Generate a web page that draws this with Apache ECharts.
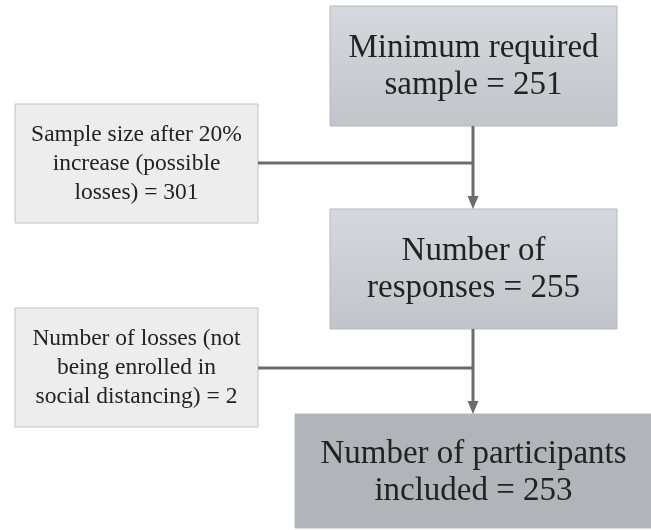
<!DOCTYPE html>
<html><head><meta charset="utf-8">
<script src="https://cdn.jsdelivr.net/npm/echarts@6/dist/echarts.min.js"></script>
<style>html,body{margin:0;padding:0;background:#fff}#c{width:651px;height:530px}</style>
</head><body><div id="c"></div>
<script>
// Flowchart content
const mainLabels = ['Minimum required\nsample = 251', 'Number of\nresponses = 255', 'Number of participants\nincluded = 253'];
const sideLabels = ['Sample size after 20%\nincrease (possible\nlosses) = 301', 'Number of losses (not\nbeing enrolled in\nsocial distancing) = 2'];

// Layout (pixels)
const mainBoxes = [
  {x: 330, y: 6, w: 287, h: 120, top: '#d5d8dc', bottom: '#c1c4c9', dy: 1},
  {x: 330, y: 209, w: 287, h: 120, top: '#d5d8dc', bottom: '#c1c4c9', dy: 1},
  {x: 295, y: 414, w: 357, h: 114, top: '#b1b4b9', bottom: '#b1b4b9', dy: 2}
];
const sideBoxes = [
  {x: 15, y: 104, w: 243, h: 119, joinY: 163},
  {x: 15, y: 308, w: 243, h: 119, joinY: 368}
];
const spineX = 473;
const lineColor = '#6b6c6e';
const serif = 'Liberation Serif';

const els = [];
mainBoxes.forEach((b, i) => {
  els.push({type: 'rect', shape: {x: b.x, y: b.y, width: b.w, height: b.h},
    style: {fill: new echarts.graphic.LinearGradient(0, 0, 0, 1, [{offset: 0, color: b.top}, {offset: 1, color: b.bottom}]),
      stroke: '#b5b8bc', lineWidth: 1}});
  els.push({type: 'text', x: b.x + b.w / 2, y: b.y + b.h / 2 + b.dy,
    style: {text: mainLabels[i], fill: '#222', fontFamily: serif, fontSize: 33,
      align: 'center', verticalAlign: 'middle', lineHeight: 37}});
});
sideBoxes.forEach((b, i) => {
  els.push({type: 'rect', shape: {x: b.x, y: b.y, width: b.w, height: b.h},
    style: {fill: '#ededed', stroke: '#c2c2c2', lineWidth: 1}});
  els.push({type: 'text', x: b.x + b.w / 2, y: b.y + b.h / 2,
    style: {text: sideLabels[i], fill: '#222', fontFamily: serif, fontSize: 23.5,
      align: 'center', verticalAlign: 'middle', lineHeight: 29}});
  els.push({type: 'line', shape: {x1: b.x + b.w, y1: b.joinY, x2: spineX, y2: b.joinY},
    style: {stroke: lineColor, lineWidth: 3}});
});
// vertical connectors with arrows
for (let i = 0; i < mainBoxes.length - 1; i++) {
  const a = mainBoxes[i], n = mainBoxes[i + 1];
  els.push({type: 'line', shape: {x1: spineX, y1: a.y + a.h, x2: spineX, y2: n.y - 12},
    style: {stroke: lineColor, lineWidth: 3}});
  els.push({type: 'polygon', shape: {points: [[spineX - 5.5, n.y - 13], [spineX + 5.5, n.y - 13], [spineX, n.y]]},
    style: {fill: lineColor}});
}

const chart = echarts.init(document.getElementById('c'));
chart.setOption({animation: false, graphic: {elements: els}});
</script>
</body></html>
